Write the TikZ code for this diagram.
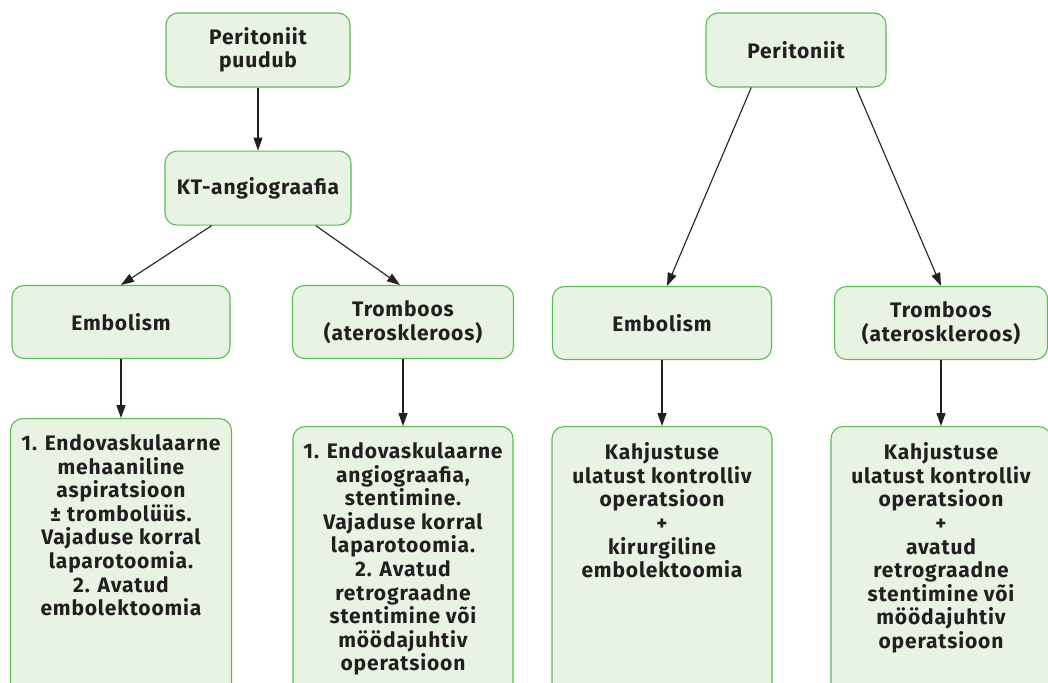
\documentclass[tikz,border=0pt]{standalone}
\usepackage{fontspec}
\setmainfont[LetterSpace=4]{Fira Sans}
\usetikzlibrary{positioning,arrows.meta}
\definecolor{boxfill}{HTML}{E8F3E4}
\definecolor{boxline}{HTML}{5DBA57}
\definecolor{ink}{HTML}{231F20}
\newcommand{\longtext}[1]{\parbox[t][300pt][t]{216pt}{\centering #1}}

\begin{document}
\begin{tikzpicture}[x=1pt, y=-1pt,
		box/.style={draw=boxline, fill=boxfill, rounded corners=12pt, line width=1.1pt,
			text=ink, font=\fontsize{21}{23.6}\selectfont\bfseries, align=center, inner sep=0pt},
		longbox/.style={box, inner xsep=2pt, inner ysep=16pt},
		arr/.style={-{Triangle[length=13pt,width=9pt]}, line width=1.1pt, draw=ink}]
		\path[use as bounding box] (0,0) rectangle (1048,682);
		\clip (0,0) rectangle (1048,682);
		% left part
		\node[box, minimum width=184pt, minimum height=74pt] (puudub) at (258,50) {Peritoniit\\puudub};
		\node[box, minimum width=186pt, minimum height=74pt, below=63pt of puudub] (kt) {KT-angiograafia};
		\node[box, minimum width=218pt, minimum height=73pt] (emb1) at (121,322) {Embolism};
		\node[box, minimum width=221pt, minimum height=73pt] (tromb1) at (403,322) {Tromboos\\(ateroskleroos)};
		\node[longbox, minimum width=221pt, below=59pt of emb1] (ravi1) {\longtext{1. Endovaskulaarne\\mehaaniline\\aspiratsioon\\± trombolüüs.\\Vajaduse korral\\laparotoomia.\\2. Avatud\\embolektoomia}};
		\node[longbox, minimum width=220pt, below=67pt of tromb1] (ravi2) {\longtext{1. Endovaskulaarne\\angiograafia,\\stentimine.\\Vajaduse korral\\laparotoomia.\\2. Avatud\\retrograadne\\stentimine või\\möödajuhtiv\\operatsioon}};
		% right part
		\node[box, minimum width=180pt, minimum height=74pt] (per) at (796,50) {Peritoniit};
		\node[box, minimum width=219pt, minimum height=73pt] (emb2) at (662,323) {Embolism};
		\node[box, minimum width=213pt, minimum height=73pt] (tromb2) at (941,323) {Tromboos\\(ateroskleroos)};
		\node[longbox, minimum width=219pt, below=66pt of emb2] (ravi3) {\longtext{Kahjustuse\\ulatust kontrolliv\\operatsioon\\+\\kirurgiline\\embolektoomia}};
		\node[longbox, minimum width=213pt, below=66pt of tromb2] (ravi4) {\longtext{Kahjustuse\\ulatust kontrolliv\\operatsioon\\+\\avatud\\retrograadne\\stentimine või\\möödajuhtiv\\operatsioon}};
		% arrows
		\draw[arr] (puudub) -- (kt);
		\draw[arr] (kt.219) -- (emb1.north);
		\draw[arr] (kt.-33) -- ([xshift=-3pt]tromb1.north);
		\draw[arr] (emb1) -- (ravi1);
		\draw[arr] (tromb1) -- (ravi2);
		\draw[arr] (per.220) -- ([xshift=5pt]emb2.north);
		\draw[arr] (per.-32) -- (tromb2.north);
		\draw[arr] (emb2) -- (ravi3);
		\draw[arr] (tromb2) -- (ravi4);
\end{tikzpicture}
\end{document}
